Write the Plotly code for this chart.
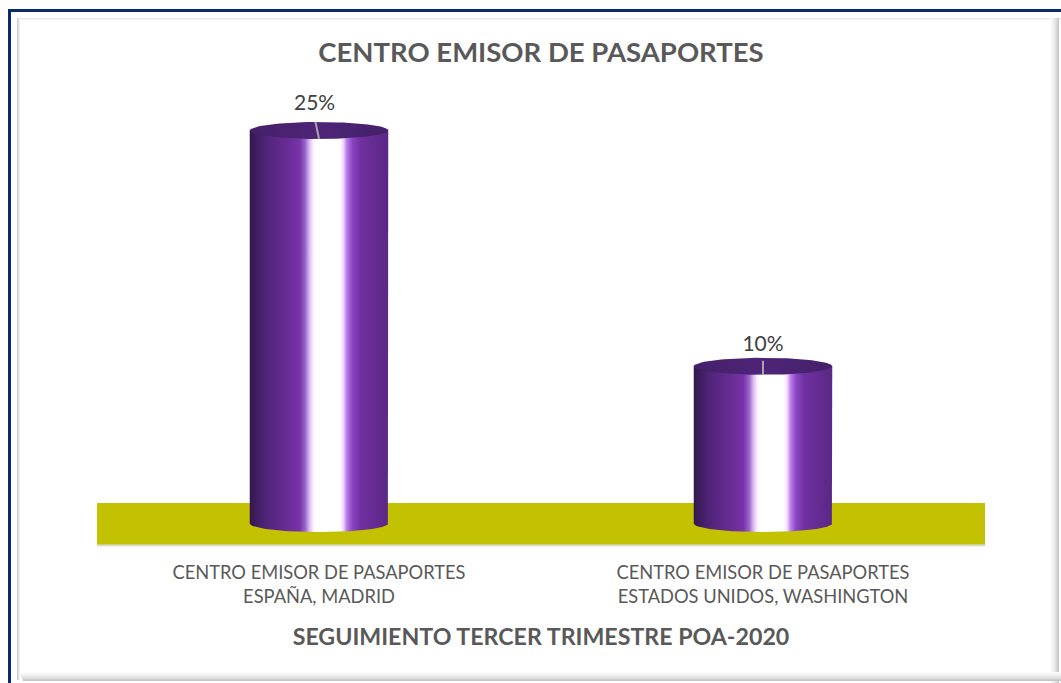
import numpy as np
import plotly.graph_objects as go

W, H = 1061, 683
PL, PR, PT, PB = 97, 985, 90, 545   # plot area in pixels

# ---- data ----
categories = ["CENTRO EMISOR DE PASAPORTES<br>ESPAÑA, MADRID",
              "CENTRO EMISOR DE PASAPORTES<br>ESTADOS UNIDOS, WASHINGTON"]
values = [25, 10]
value_labels = ["25%", "10%"]
title_text = "CENTRO EMISOR DE PASAPORTES"
x_title_text = "SEGUIMIENTO TERCER TRIMESTRE POA-2020"

# ---- style ----
FONT = "Lato"
bar_width = 0.312
px_per_unit = 15.72
zero_px = 523.5
y_low = -(PB - zero_px) / px_per_unit
y_high = (zero_px - PT) / px_per_unit
ry = 8.5 / px_per_unit          # ellipse half-height in data units
body_scale = [
    [0.00, "#33184f"], [0.11, "#4f2478"], [0.25, "#652b92"], [0.36, "#7833a8"],
    [0.40, "#9a63c8"], [0.43, "#d9b8f2"], [0.46, "#fdf3ff"], [0.48, "#ffffff"],
    [0.65, "#ffffff"], [0.675, "#f2d8ff"], [0.70, "#b87ee8"], [0.74, "#8a45c0"],
    [0.80, "#7030a0"], [1.00, "#5a2885"],
]
top_scale = [[0, "#44206a"], [0.5, "#4e2478"], [1, "#44206a"]]

t = np.linspace(0, np.pi, 60)
fig = go.Figure()

for i, v in enumerate(values):
    hw = bar_width / 2
    ex = i + hw * np.cos(t)
    body_x = np.concatenate([[i + hw], [i + hw], ex[1:-1], [i - hw], [i - hw], [i + hw]])
    body_y = np.concatenate([[v], [0], -ry * np.sin(t)[1:-1], [0], [v], [v]])
    fig.add_trace(go.Scatter(x=body_x, y=body_y, mode="lines", fill="toself",
                             line=dict(width=0), hoverinfo="skip", showlegend=False,
                             fillgradient=dict(type="horizontal", colorscale=body_scale)))
    tt = np.linspace(0, 2 * np.pi, 120)
    fig.add_trace(go.Scatter(x=i + hw * np.cos(tt), y=v + ry * np.sin(tt), mode="lines",
                             fill="toself", line=dict(width=0), hoverinfo="skip",
                             showlegend=False,
                             fillgradient=dict(type="horizontal", colorscale=top_scale)))

# leader lines and value labels
lead_dx = [-0.008, 0.0]
lead_top = [0.55, 0.35]
lead_bot = [0.52, 0.55]
lbl_dx = [-0.01, 0.0]
lbl_dy = [1.65, 1.33]
for i, v in enumerate(values):
    fig.add_trace(go.Scatter(x=[i + lead_dx[i], i], y=[v + lead_top[i], v - lead_bot[i]], mode="lines",
                             line=dict(color="#a6a6a6", width=2), hoverinfo="skip",
                             showlegend=False))
    fig.add_trace(go.Scatter(x=[i + lbl_dx[i]], y=[v + lbl_dy[i]], mode="text",
                             text=[value_labels[i]], textposition="middle center",
                             textfont=dict(family=FONT, size=21, color="#404040"),
                             hoverinfo="skip", showlegend=False))

def px(x):
    return (x - PL) / (PR - PL)
def py(y):
    return (PB - y) / (PB - PT)

shapes = []
shapes.append(dict(type="rect", xref="x domain", yref="y", x0=0, x1=1,
                   y0=y_low, y1=(zero_px - 503) / px_per_unit,
                   fillcolor="#c2c200", line=dict(width=0), layer="below"))
shapes.append(dict(type="line", xref="x domain", yref="paper", x0=0, x1=1,
                   y0=py(545.5), y1=py(545.5), line=dict(color="#dcdcdc", width=2), layer="below"))

def line(x0, y0, x1, y1, color, width=1):
    shapes.append(dict(type="line", xref="paper", yref="paper",
                       x0=px(x0), y0=py(y0), x1=px(x1), y1=py(y1),
                       line=dict(color=color, width=width), layer="below"))

line(9.5, 10.5, 1061, 10.5, "#0a2a6b", 3)
line(9.5, 9, 9.5, 683, "#0a2a6b", 3)
for k, c in enumerate(["#f0f0f0", "#e0e0e0", "#cfcfcf"]):
    line(19.5 - k, 18, 19.5 - k, 680, c, 1)
for k, c in enumerate(["#f4f4f4", "#e8e8e8"]):
    line(19, 19.5 - k, 1061, 19.5 - k, c, 1)
ramp = ["#fcfcfc", "#f8f8f8", "#f3f3f3", "#eeeeee", "#e8e8e8", "#e2e2e2", "#dadada", "#d0d0d0", "#c6c6c6"]
for k, c in enumerate(ramp):
    line(1050.5 + k, 18, 1050.5 + k, 683, c, 1)
for k, c in enumerate(ramp):
    line(19 + k * 0.5, 672.5 + k, 1061, 672.5 + k, c, 1)

fig.update_layout(
    width=W, height=H, autosize=False,
    margin=dict(l=PL, r=W - PR, t=PT, b=H - PB, pad=0),
    paper_bgcolor="white", plot_bgcolor="rgba(0,0,0,0)",
    showlegend=False, shapes=shapes,
    title=dict(text=f"<b>{title_text}</b>", x=541 / W, xanchor="center", y=1 - 52 / H,
               yanchor="middle", font=dict(family=FONT, size=27.5, color="#595959")),
    xaxis=dict(range=[-0.5, 1.5], tickmode="array", tickvals=list(range(len(categories))),
               ticktext=categories, showgrid=False, zeroline=False, showline=False,
               ticks="", tickfont=dict(family=FONT, size=18.3, color="#595959"),
               ticklabelstandoff=15, automargin=False,
               title=dict(text=f"<b>{x_title_text}</b>", standoff=22,
                          font=dict(family=FONT, size=23.2, color="#595959"))),
    yaxis=dict(range=[y_low, y_high], visible=False),
)

fig.write_html("out.html", config={"displayModeBar": False},
               post_script="document.body.style.margin='0';document.body.style.overflow='hidden';")
